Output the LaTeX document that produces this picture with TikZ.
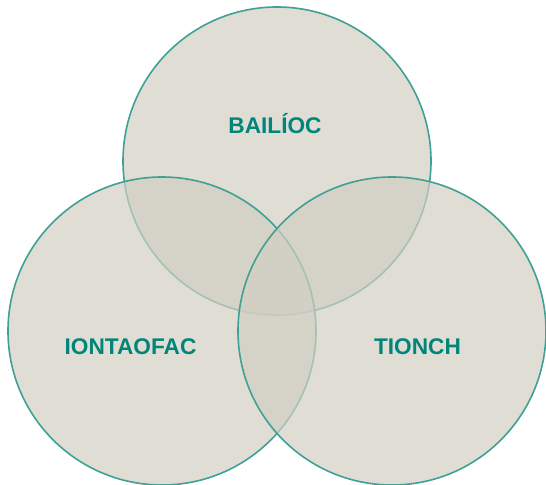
\documentclass[tikz,border=0pt]{standalone}
\usepackage{fontspec}
\setmainfont{Liberation Sans}

\tikzset{every picture/.style={line width=0.75pt}}
\tikzset{
  venn circle/.style={draw={rgb, 255:red, 64; green, 160; blue, 150 }, fill={rgb, 255:red, 209; green, 207; blue, 194 }, fill opacity=0.7, line width=1.2},
  venn label/.style={text={rgb, 255:red, 0; green, 133; blue, 122 }, font=\fontsize{17}{20}\selectfont\bfseries, inner sep=0pt}
}

\begin{document}
\begin{tikzpicture}[x=0.75pt,y=0.75pt,yscale=-1,xscale=1]
	\useasboundingbox (0,0) rectangle (546,485);

	%Shape: Circle [top]
	\draw [venn circle] (277,161) circle (154);
	%Shape: Circle [left]
	\draw [venn circle] (162,331) circle (154);
	%Shape: Circle [right]
	\draw [venn circle] (392,331) circle (154);

	% Text Node
	\node [venn label] (bailioc) at (275,124) {BAILÍOC};
	% Text Node
	\node [venn label] (iontaofac) at (130.5,347) {IONTAOFAC};
	% Text Node
	\node [venn label] (tionch) at (417.5,347) {TIONCH};

\end{tikzpicture}
\end{document}
